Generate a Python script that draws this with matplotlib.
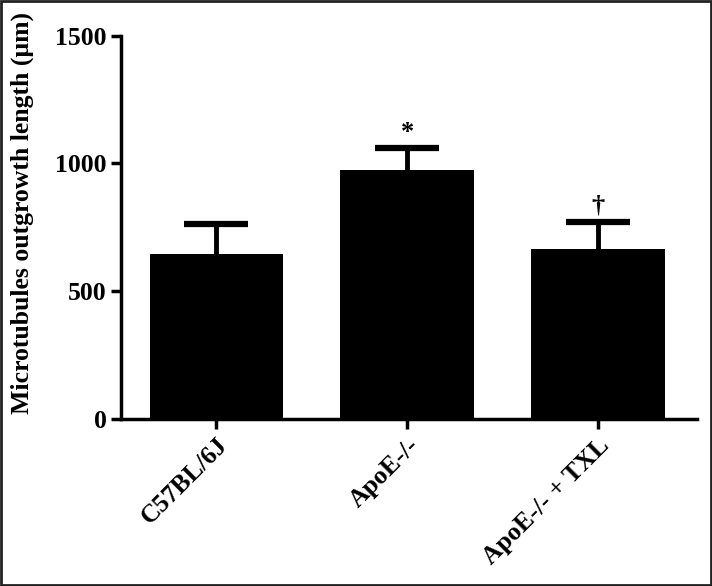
import matplotlib.pyplot as plt
from matplotlib.patches import Rectangle

groups = ['C57BL/6J', 'ApoE-/-', 'ApoE-/- + TXL']
means = [645, 975, 665]
errors = [120, 85, 105]
marks = ['', '*', '†']

plt.rcParams['font.family'] = ['Liberation Serif', 'DejaVu Serif']
plt.rcParams['font.weight'] = 'bold'

fig = plt.figure(figsize=(7.12, 5.86), dpi=100)
ax = fig.add_axes([0.170, 0.285, 0.809, 0.654])

x = range(len(groups))
ax.bar(x, means, width=0.7, color='black', zorder=2)
# symmetric bars, the lower half is hidden behind the bar
ax.errorbar(x, means, yerr=errors, fmt='none',
            ecolor='black', elinewidth=3.5, capsize=23, capthick=4.5, zorder=1)

# significance marks above the error caps
for i, (m, e, s) in enumerate(zip(means, errors, marks)):
    if s:
        ax.text(i, m + e + 18, s, ha='center', va='bottom', fontsize=19,
                fontweight='bold', family=['Liberation Serif', 'DejaVu Serif'])

ax.set_xlim(-0.5, 2.52)
ax.set_ylim(0, 1500)
ax.set_yticks([0, 500, 1000, 1500])
ax.set_xticks(list(x))
ax.set_xticklabels(groups, rotation=45, ha='right', rotation_mode='anchor')
ax.set_ylabel('Microtubules outgrowth length (μm)', fontsize=18.5, fontweight='bold')
ax.yaxis.set_label_coords(-0.151, 0.538)

for side in ['top', 'right']:
    ax.spines[side].set_visible(False)
for side in ['left', 'bottom']:
    ax.spines[side].set_linewidth(2.5)
ax.tick_params(axis='both', width=2.5, length=7, labelsize=18.5, direction='out')

# frame round the whole picture
fig.patches.append(Rectangle((0.002, 0.002), 0.996, 0.996, transform=fig.transFigure,
                             fill=False, edgecolor='#222222', linewidth=2))

fig.savefig('out.png', dpi=100)
